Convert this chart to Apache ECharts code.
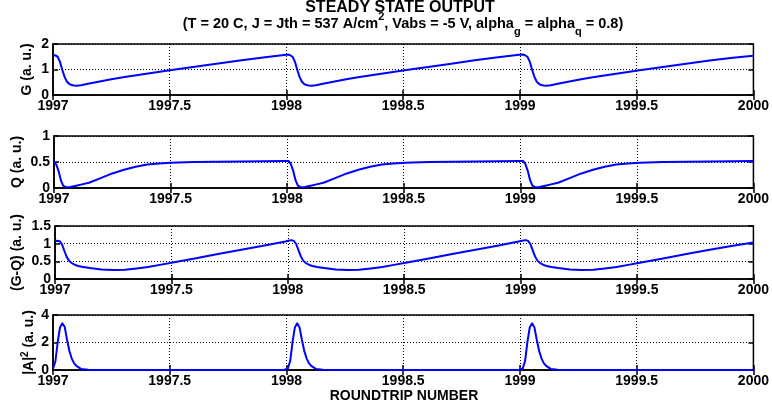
<!DOCTYPE html>
<html><head><meta charset="utf-8">
<script src="https://cdn.jsdelivr.net/npm/echarts@6/dist/echarts.min.js"></script>
<style>html,body{margin:0;padding:0;background:#fff}#c{width:772px;height:412px}</style>
</head><body><div id="c"></div>
<script>
// roundtrip number (x values)
const roundtrip = [
 1997.000,1997.010,1997.020,1997.030,1997.040,1997.050,1997.060,1997.070,1997.080,1997.090,1997.100,1997.120,1997.150,1997.200,1997.250,1997.300,1997.350,1997.400,1997.450,1997.500,1997.600,1997.700,1997.800,1997.900,1997.990,
 1998.006,1998.016,1998.026,1998.036,1998.046,1998.056,1998.066,1998.076,1998.086,1998.096,1998.106,1998.126,1998.156,1998.206,1998.256,1998.306,1998.356,1998.406,1998.456,1998.506,1998.606,1998.706,1998.806,1998.906,1998.996,
 1999.012,1999.022,1999.032,1999.042,1999.052,1999.062,1999.072,1999.082,1999.092,1999.102,1999.112,1999.132,1999.162,1999.212,1999.262,1999.312,1999.362,1999.412,1999.462,1999.512,1999.612,1999.712,1999.812,1999.912,2000.000
];
const gain = [
 1.58,1.55,1.50,1.30,0.98,0.70,0.52,0.43,0.39,0.37,0.36,0.38,0.44,0.53,0.62,0.70,0.765,0.83,0.90,0.97,1.10,1.23,1.35,1.47,1.57,
 1.59,1.56,1.50,1.31,0.99,0.71,0.52,0.43,0.39,0.37,0.36,0.38,0.44,0.53,0.62,0.70,0.765,0.83,0.90,0.97,1.10,1.23,1.36,1.48,1.58,
 1.59,1.56,1.50,1.31,0.99,0.71,0.52,0.43,0.39,0.37,0.36,0.38,0.44,0.53,0.62,0.70,0.765,0.83,0.90,0.97,1.10,1.23,1.35,1.46,1.54
];
const absorption = [
 0.51,0.45,0.32,0.14,0.04,0.02,0.015,0.02,0.03,0.04,0.05,0.07,0.10,0.19,0.28,0.35,0.41,0.45,0.47,0.485,0.50,0.505,0.51,0.515,0.52,
 0.52,0.46,0.33,0.15,0.045,0.02,0.015,0.02,0.03,0.04,0.05,0.07,0.10,0.19,0.28,0.35,0.41,0.45,0.47,0.485,0.50,0.505,0.51,0.515,0.52,
 0.52,0.46,0.33,0.15,0.045,0.02,0.015,0.02,0.03,0.04,0.05,0.07,0.10,0.19,0.28,0.35,0.41,0.45,0.47,0.485,0.50,0.505,0.51,0.515,0.52
];
const netGain = [
 1.07,1.08,1.07,0.98,0.80,0.63,0.52,0.46,0.42,0.39,0.37,0.34,0.31,0.27,0.255,0.265,0.30,0.34,0.40,0.46,0.58,0.71,0.83,0.95,1.06,
 1.09,1.10,1.08,0.99,0.81,0.64,0.52,0.46,0.42,0.39,0.37,0.34,0.31,0.27,0.255,0.265,0.30,0.34,0.40,0.46,0.58,0.71,0.83,0.95,1.07,
 1.09,1.10,1.08,0.99,0.81,0.64,0.52,0.46,0.42,0.39,0.37,0.34,0.31,0.27,0.255,0.265,0.30,0.34,0.40,0.46,0.58,0.71,0.83,0.94,1.03
];
const intensity = [
 0.10,0.60,2.00,3.10,3.40,3.15,2.20,1.40,0.85,0.50,0.30,0.08,0.01,0,0,0,0,0,0,0,0,0,0,0,0,
 0.12,0.65,2.05,3.10,3.40,3.10,2.20,1.40,0.85,0.50,0.30,0.08,0.01,0,0,0,0,0,0,0,0,0,0,0,0,
 0.12,0.65,2.05,3.10,3.40,3.10,2.20,1.40,0.85,0.50,0.30,0.08,0.01,0,0,0,0,0,0,0,0,0,0,0,0
];
const xTickLabels = ['1997','1997.5','1998','1998.5','1999','1999.5','2000'];
const gTickLabels = ['0','1','2'];
const qTickLabels = ['0','0.5','1'];
const gqTickLabels = ['0','0.5','1','1.5'];
const aTickLabels = ['0','2','4'];

const FONT = 'Liberation Sans, Arial, sans-serif';
const panels = [
  {top:44, height:51, max:2, interval:1, ticks:gTickLabels, name:'G (a. u.)', gap:17, data:gain},
  {top:136, height:52, max:1, interval:0.5, ticks:qTickLabels, name:'Q (a. u.)', gap:28, data:absorption},
  {top:226, height:53, max:1.5, interval:0.5, ticks:gqTickLabels, name:'(G-Q) (a. u.)', gap:29, data:netGain},
  {top:315, height:55, max:4, interval:2, ticks:aTickLabels, name:'|A|{sup|2} (a. u.)', gap:15, data:intensity}
];
const grid=[], xAxis=[], yAxis=[], series=[];
const lab = {color:'#000', fontFamily:FONT, fontWeight:'bold', fontSize:14};
panels.forEach((p,i)=>{
  grid.push({left:53, right:16, top:p.top, height:p.height, show:true, borderColor:'#000', borderWidth:1.5, backgroundColor:'#fff'});
  xAxis.push({type:'value', gridIndex:i, min:1997, max:2000, interval:0.5, position:'bottom',
    axisLine:{show:true, lineStyle:{color:'#000', width:1.5}},
    axisTick:{show:true, inside:true, length:5, lineStyle:{color:'#000', width:1.5}},
    splitLine:{show:true, lineStyle:{color:'#000', type:[1,2], width:1}},
    axisLabel:Object.assign({margin:4, formatter:(v)=>xTickLabels[Math.round((v-1997)/0.5)], showMinLabel:true, showMaxLabel:true}, lab)});
  xAxis.push({type:'value', gridIndex:i, min:1997, max:2000, interval:0.5, position:'top',
    axisLine:{show:false}, axisTick:{show:true, inside:true, length:5, lineStyle:{color:'#000', width:1.5}},
    splitLine:{show:false}, axisLabel:{show:false}});
  yAxis.push({type:'value', gridIndex:i, min:0, max:p.max, interval:p.interval, position:'left',
    name:p.name, nameLocation:'middle', nameGap:p.gap, nameRotate:90, nameMoveOverlap:false,
    nameTextStyle:{color:'#000', fontFamily:FONT, fontWeight:'bold', fontSize:14, lineHeight:18,
      rich:{sup:{fontFamily:FONT, fontWeight:'bold', fontSize:10, lineHeight:10, verticalAlign:'top', color:'#000'}}},
    axisLine:{show:true, lineStyle:{color:'#000', width:1.5}},
    axisTick:{show:true, inside:true, length:5, lineStyle:{color:'#000', width:1.5}},
    splitLine:{show:true, lineStyle:{color:'#000', type:[1,2], width:1}},
    axisLabel:Object.assign({margin:4, formatter:(v)=>p.ticks[Math.round(v/p.interval)], showMinLabel:true, showMaxLabel:true}, lab)});
  yAxis.push({type:'value', gridIndex:i, min:0, max:p.max, interval:p.interval, position:'right',
    axisLine:{show:false}, axisTick:{show:true, inside:true, length:5, lineStyle:{color:'#000', width:1.5}},
    splitLine:{show:false}, axisLabel:{show:false}});
  series.push({type:'line', xAxisIndex:2*i, yAxisIndex:2*i, showSymbol:false, smooth:false,
    lineStyle:{color:'#0000ff', width:2, join:'round'}, itemStyle:{color:'#0000ff'}, z:5, animation:false,
    data:roundtrip.map((x,k)=>[x,p.data[k]])});
});

const chart = echarts.init(document.getElementById('c'), null, {renderer:'canvas'});
chart.setOption({
  animation:false, backgroundColor:'#fff',
  grid, xAxis, yAxis, series,
  graphic:[
    {type:'text', position:[400,0], style:{text:'STEADY STATE OUTPUT', fill:'#000', font:'bold 16px '+FONT, align:'center', verticalAlign:'top'}, z:10},
    {type:'text', position:[403,11], style:{
      text:'{m|(T = 20 C, J = Jth = 537 A/cm}{sup|2}{m|, Vabs = -5 V, alpha}{sub|g}{m| = alpha}{sub|q}{m| = 0.8)}',
      align:'center', verticalAlign:'top',
      rich:{
        m:{fontFamily:FONT, fontWeight:'bold', fontSize:14.5, lineHeight:26, verticalAlign:'middle', fill:'#000'},
        sup:{fontFamily:FONT, fontWeight:'bold', fontSize:11, lineHeight:16, verticalAlign:'top', fill:'#000'},
        sub:{fontFamily:FONT, fontWeight:'bold', fontSize:11, lineHeight:10, verticalAlign:'bottom', fill:'#000'}
      }}, z:10},
    {type:'text', position:[404,389], style:{text:'ROUNDTRIP NUMBER', fill:'#000', font:'bold 14px '+FONT, align:'center', verticalAlign:'top'}, z:10}
  ]
});
</script>
</body></html>
